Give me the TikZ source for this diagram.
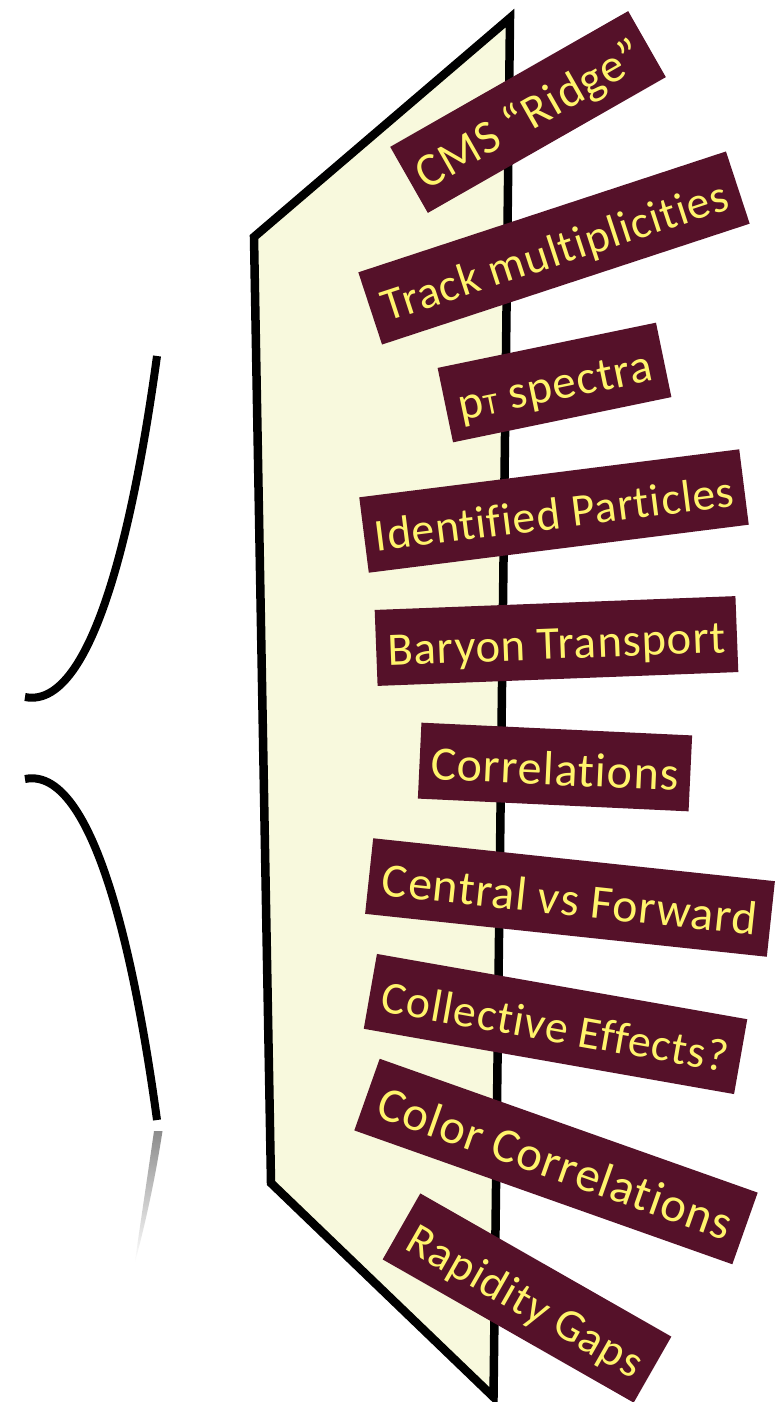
\documentclass[tikz,border=0pt]{standalone}
\usepackage{fontspec}
\setmainfont{Carlito}[LetterSpace=2,Ligatures=NoCommon]
\definecolor{tagbg}{HTML}{551129}
\definecolor{tagfg}{HTML}{FFF46C}
\definecolor{panelfill}{HTML}{F8F9DD}
\tikzset{
  tag/.style={fill=tagbg,text=tagfg,inner sep=0pt,text height=56pt,text depth=20pt,anchor=center,font=\fontsize{#1}{50}\selectfont},
  panelstyle/.style={draw=black,line width=8.5pt,fill=panelfill,miter limit=10},
  bracestyle/.style={draw=black,line width=8pt,line cap=butt}
}
\begin{document}
\begin{tikzpicture}[x=1pt,y=-1pt]
\useasboundingbox (0,0) rectangle (783,1402);
\fill[white] (0,0) rectangle (783,1402);
\begin{scope}
\clip (0,0) rectangle (783,1402);
\path[panelstyle] (254,237) -- (510,18) -- (493.5,1397) -- (271,1183) -- cycle;
\end{scope}
\path[bracestyle] (157,356) .. controls (140,480) and (100,712) .. (25,697);
\path[bracestyle] (157,1120) .. controls (140,996) and (100,764) .. (25,779);
\shade[top color=black!45,middle color=black!10,bottom color=white]
  (154,1131) -- (162.5,1131) .. controls (155,1180) and (145,1225) .. (135,1262) .. controls (140,1225) and (147,1180) .. (154,1131) -- cycle;
\node[tag=47.5,minimum width=274pt,rotate=29.7] (ridge) at (528,112) {CMS “Ridge”};
\node[tag=45.8,minimum width=387pt,rotate=18.2] (track) at (554,248) {Track multiplicities};
\node[tag=47.2,minimum width=223pt,rotate=11.7] (pt) at (554.5,382.5) {p{\fontsize{30}{30}\selectfont T} spectra};
\node[tag=45.6,minimum width=383pt,rotate=7.2] (ident) at (554,511) {Identified Particles};
\node[tag=46.6,minimum width=361pt,rotate=2.2] (baryon) at (556.5,641) {Baryon Transport};
\node[tag=48,minimum width=271pt,rotate=-2.7] (corr) at (555,767) {Correlations};
\node[tag=47.8,minimum width=404pt,rotate=-6.1] (central) at (570,897.5) {Central vs Forward};
\node[tag=45.8,minimum width=376pt,rotate=-10] (coll) at (555.5,1024) {Collective Effects?};
\node[tag=48.7,minimum width=401pt,rotate=-19.5] (color) at (556,1161.5) {Color Correlations};
\node[tag=45.6,minimum width=289pt,rotate=-29.7] (gaps) at (527,1298) {Rapidity Gaps};
\end{tikzpicture}
\end{document}
